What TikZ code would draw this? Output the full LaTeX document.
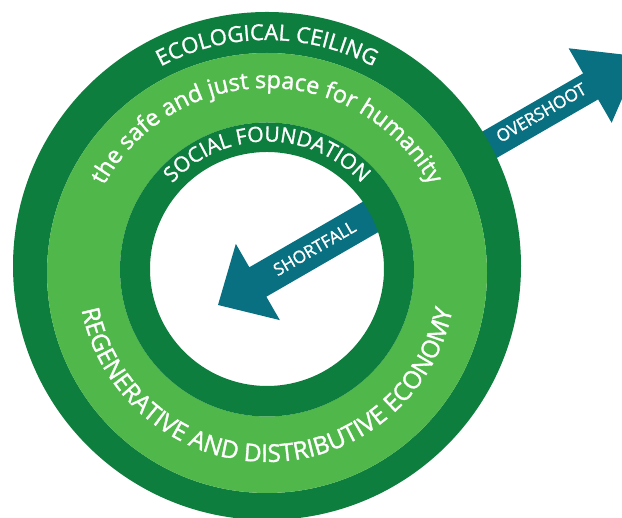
\documentclass[tikz,border=0pt]{standalone}
\usepackage{fontspec}
\setmainfont{Open Sans}
\newfontfamily\ringfont{Open Sans}[FakeBold=1.3]
\usetikzlibrary{decorations.text}
\definecolor{ringdark}{RGB}{14,126,62}
\definecolor{ringlight}{RGB}{80,184,74}
\definecolor{arrowteal}{RGB}{8,112,128}
\begin{document}
\begin{tikzpicture}[x=1pt,y=1pt,
  arrowshape/.style={fill=arrowteal},
  ringtext/.style={decorate, decoration={text along path, text align=center, text color=white}},
  arrowlabel/.style={text=white, font=\ringfont\fontsize{17}{17}\selectfont, inner sep=0pt, transform shape}
]
\useasboundingbox (0,0) rectangle (622,518);
\clip (0,0) rectangle (622,518);
\fill[white] (0,0) rectangle (622,518);

% arrows (drawn first, rings cover their inner ends)
\begin{scope}[shift={(218,213)}, rotate=30]
  \fill[arrowshape] (0,0) -- (46,44) -- (46,17) -- (190,17) -- (190,-17) -- (46,-17) -- (46,-44) -- cycle;
  \fill[arrowshape] (300,18) -- (432,18) -- (432,47) -- (490,4) -- (432,-39) -- (432,-12) -- (300,-12) -- cycle;
  \node[arrowlabel] (shortfalllabel) at (112,1) {SHORTFALL};
  \node[arrowlabel] (overshootlabel) at (376,5) {OVERSHOOT};
\end{scope}

% rings
\fill[ringdark, even odd rule] (267,252) circle[radius=254pt] (267,245) circle[radius=220pt];
\fill[ringlight, even odd rule] (267,245) circle[radius=220pt] (267,248.5) circle[radius=147pt];
\fill[ringdark, even odd rule] (267,248.5) circle[radius=147pt] (267,249) circle[radius=117pt];

% ring texts
\path[ringtext, decoration={text={|\ringfont\fontsize{22}{22}\selectfont|ECOLOGICAL CEILING}}]
  (267,252) ++(180:226pt) arc[start angle=180, end angle=0, radius=226pt];
\path[ringtext, decoration={text={|\ringfont\fontsize{23.5}{24}\selectfont|the safe and just space for humanity}}]
  (267,245) ++(180:185pt) arc[start angle=180, end angle=0, radius=185pt];
\path[ringtext, decoration={text={|\ringfont\fontsize{21}{21}\selectfont|SOCIAL FOUNDATION}}]
  (267,248.5) ++(180:128pt) arc[start angle=180, end angle=0, radius=128pt];
\path[ringtext, decoration={text={|\ringfont\fontsize{24.5}{25}\selectfont|REGENERATIVE AND DISTRIBUTIVE ECONOMY}}]
  (267,245) ++(180:189pt) arc[start angle=180, end angle=360, radius=189pt];
\end{tikzpicture}
\end{document}
